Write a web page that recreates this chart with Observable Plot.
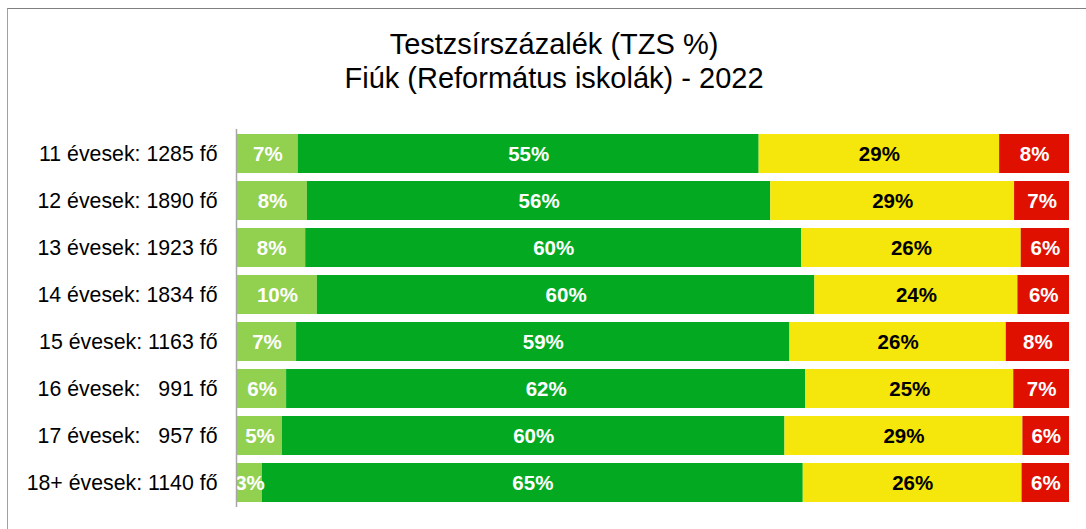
<!DOCTYPE html>
<html>
<head>
<meta charset="utf-8">
<script src="https://cdn.jsdelivr.net/npm/d3@7"></script>
<script src="https://cdn.jsdelivr.net/npm/@observablehq/plot@0.6"></script>
<style>
  html, body { margin: 0; padding: 0; background: #fff; overflow: hidden; width: 1086px; height: 529px; }
  #frame { position: absolute; left: 7px; top: 8px; width: 1100px; height: 540px;
           border-top: 1px solid #808080; border-left: 1px solid #a0a0a0; box-sizing: border-box; }
  #title { position: absolute; left: 7px; top: 28px; width: 1094px; text-align: center;
           font-family: "Liberation Sans", Arial, sans-serif; font-size: 29px; line-height: 33.5px; color: #000; }
  #chart { position: absolute; left: 0; top: 0; }
  #chart svg text { white-space: pre; }
</style>
</head>
<body>
<div id="frame"></div>
<div id="title">Testzsírszázalék (TZS %)<br>Fiúk (Református iskolák) - 2022</div>
<div id="chart"></div>
<script>
// Categories (age groups with head counts)
const ageGroups = [
  "11 évesek: 1285 fő",
  "12 évesek: 1890 fő",
  "13 évesek: 1923 fő",
  "14 évesek: 1834 fő",
  "15 évesek: 1163 fő",
  "16 évesek:   991 fő",
  "17 évesek:   957 fő",
  "18+ évesek: 1140 fő"
];

// Series (share of each body-fat category, %)
const seriesNames = ["Alacsony", "Egészséges", "Magas", "Nagyon magas"];
const lowValues      = [7.3, 8.4, 8.2, 9.6, 7.1, 5.9, 5.4, 3.0];
const healthyValues  = [55.4, 55.7, 59.6, 59.8, 59.3, 62.4, 60.4, 65.0];
const highValues     = [28.9, 29.3, 26.4, 24.4, 26.0, 25.0, 28.6, 26.3];
const veryHighValues = [8.4, 6.6, 5.8, 6.2, 7.6, 6.7, 5.6, 5.7];

const seriesColors = ["#92d050", "#03aa21", "#f5e60b", "#df1000"];

const seriesValues = [lowValues, healthyValues, highValues, veryHighValues];
const data = [];
ageGroups.forEach((age, i) => {
  seriesNames.forEach((s, j) => {
    data.push({ age, series: s, value: seriesValues[j][i] });
  });
});

const label = d => Math.round(d.value) + "%";
const font = "'Liberation Sans', Arial, sans-serif";

const chart = Plot.plot({
  width: 1086,
  height: 529,
  marginLeft: 237,
  marginRight: 17,
  marginTop: 129,
  marginBottom: 22,
  style: { fontFamily: font, background: "transparent", overflow: "visible" },
  x: { domain: [0, 100], axis: null },
  y: { domain: ageGroups, paddingInner: 0.175, paddingOuter: 0.0875, label: null, axis: null },
  color: { domain: seriesNames, range: seriesColors },
  marks: [
    Plot.axisY({ tickSize: 0, tickPadding: 20, fontSize: 21.3, label: null, fill: "#000" }),
    Plot.barX(data, Plot.stackX({ x: "value", y: "age", z: "series", fill: "series" })),
    Plot.text(data, Plot.stackX({
      x: "value", y: "age", z: "series",
      text: d => d.series === "Magas" ? null : label(d),
      fill: "white", fontWeight: "bold", fontSize: 20.5
    })),
    Plot.text(data, Plot.stackX({
      x: "value", y: "age", z: "series",
      text: d => d.series === "Magas" ? label(d) : null,
      fill: "black", fontWeight: "bold", fontSize: 20.5
    })),
    Plot.ruleX([0], { stroke: "#a6a6a6", strokeWidth: 1.5, dx: -1 })
  ]
});
document.getElementById("chart").appendChild(chart);
</script>
</body>
</html>
